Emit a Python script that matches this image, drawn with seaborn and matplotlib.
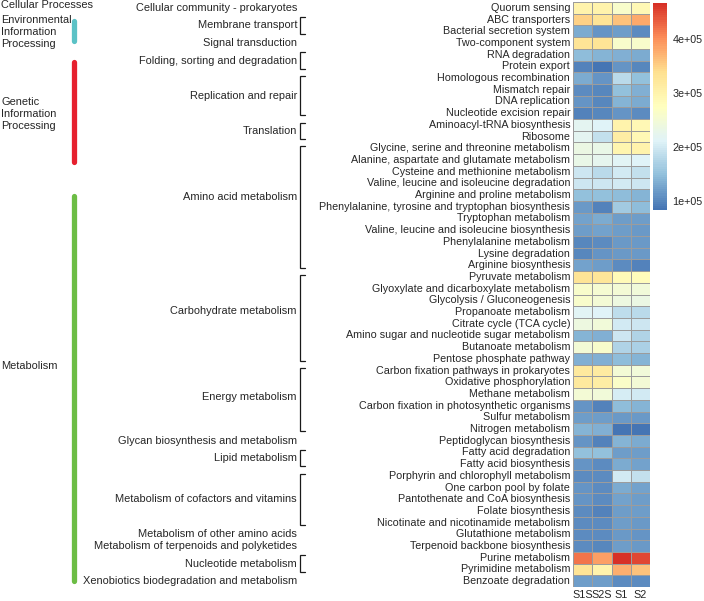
import matplotlib
matplotlib.use("Agg")
import matplotlib.pyplot as plt
import matplotlib.transforms as mtransforms
from matplotlib.colors import LinearSegmentedColormap
import numpy as np
import pandas as pd
import seaborn as sns

# ---------------- data ----------------
samples = ["S1S", "S2S", "S1", "S2"]

pathways = [
    "Quorum sensing", "ABC transporters", "Bacterial secretion system", "Two-component system",
    "RNA degradation", "Protein export", "Homologous recombination", "Mismatch repair",
    "DNA replication", "Nucleotide excision repair", "Aminoacyl-tRNA biosynthesis", "Ribosome",
    "Glycine, serine and threonine metabolism", "Alanine, aspartate and glutamate metabolism",
    "Cysteine and methionine metabolism", "Valine, leucine and isoleucine degradation",
    "Arginine and proline metabolism", "Phenylalanine, tyrosine and tryptophan biosynthesis",
    "Tryptophan metabolism", "Valine, leucine and isoleucine biosynthesis",
    "Phenylalanine metabolism", "Lysine degradation", "Arginine biosynthesis",
    "Pyruvate metabolism", "Glyoxylate and dicarboxylate metabolism", "Glycolysis / Gluconeogenesis",
    "Propanoate metabolism", "Citrate cycle (TCA cycle)", "Amino sugar and nucleotide sugar metabolism",
    "Butanoate metabolism", "Pentose phosphate pathway", "Carbon fixation pathways in prokaryotes",
    "Oxidative phosphorylation", "Methane metabolism", "Carbon fixation in photosynthetic organisms",
    "Sulfur metabolism", "Nitrogen metabolism", "Peptidoglycan biosynthesis", "Fatty acid degradation",
    "Fatty acid biosynthesis", "Porphyrin and chlorophyll metabolism", "One carbon pool by folate",
    "Pantothenate and CoA biosynthesis", "Folate biosynthesis", "Nicotinate and nicotinamide metabolism",
    "Glutathione metabolism", "Terpenoid backbone biosynthesis", "Purine metabolism",
    "Pyrimidine metabolism", "Benzoate degradation",
]

# abundance values (x 1e5), columns S1S, S2S, S1, S2
S1S = [3.00, 3.50, 1.30, 3.30, 1.45, 0.95, 1.30, 1.05, 1.10, 0.95, 2.20, 2.20, 2.35, 2.30, 1.95, 1.95,
       1.50, 1.15, 1.25, 1.20, 1.00, 1.00, 1.25, 3.30, 2.60, 2.60, 2.15, 2.40, 1.40, 2.50, 1.35, 3.20,
       3.20, 2.50, 1.10, 1.20, 1.40, 1.10, 1.50, 1.10, 1.05, 1.10, 1.10, 1.05, 1.05, 1.05, 1.05, 4.20,
       3.30, 1.20]
S2S = [3.00, 3.30, 1.10, 3.30, 1.40, 0.85, 1.10, 1.00, 1.00, 1.00, 2.10, 1.90, 2.30, 2.25, 1.80, 1.95,
       1.50, 0.95, 1.30, 1.25, 1.05, 1.10, 1.20, 3.25, 2.55, 2.50, 2.10, 2.45, 1.35, 2.60, 1.35, 3.15,
       3.10, 2.45, 0.95, 1.20, 1.35, 0.95, 1.50, 1.05, 1.05, 1.05, 1.05, 0.95, 1.05, 1.05, 1.00, 3.90,
       3.00, 1.20]
S1 = [2.60, 3.60, 1.20, 2.60, 1.35, 1.10, 1.80, 1.50, 1.40, 1.10, 3.00, 3.10, 2.95, 2.15, 2.00, 2.00,
      1.45, 1.60, 1.20, 1.20, 1.15, 1.15, 1.05, 2.85, 2.50, 2.40, 1.85, 2.00, 1.95, 1.75, 1.45, 2.50,
      2.65, 2.05, 1.45, 1.15, 0.85, 1.40, 1.20, 1.30, 2.00, 1.30, 1.25, 1.20, 1.20, 1.15, 1.20, 4.65,
      3.75, 1.05]
S2 = [2.90, 3.80, 1.05, 2.60, 1.30, 1.00, 1.50, 1.35, 1.30, 1.05, 2.90, 2.90, 3.00, 2.10, 1.90, 1.95,
      1.40, 1.45, 1.20, 1.15, 1.15, 1.15, 0.95, 2.80, 2.45, 2.35, 1.80, 1.95, 1.75, 1.70, 1.40, 2.45,
      2.50, 2.00, 1.40, 1.15, 0.85, 1.30, 1.20, 1.25, 1.90, 1.25, 1.20, 1.20, 1.15, 1.10, 1.15, 4.50,
      3.60, 1.05]

# level-2 groups: (label, first row, last row)
level2 = [
    ("Cellular community - prokaryotes", 0, 0),
    ("Membrane transport", 1, 2),
    ("Signal transduction", 3, 3),
    ("Folding, sorting and degradation", 4, 5),
    ("Replication and repair", 6, 9),
    ("Translation", 10, 11),
    ("Amino acid metabolism", 12, 22),
    ("Carbohydrate metabolism", 23, 30),
    ("Energy metabolism", 31, 36),
    ("Glycan biosynthesis and metabolism", 37, 37),
    ("Lipid metabolism", 38, 39),
    ("Metabolism of cofactors and vitamins", 40, 44),
    ("Metabolism of other amino acids", 45, 45),
    ("Metabolism of terpenoids and polyketides", 46, 46),
    ("Nucleotide metabolism", 47, 48),
    ("Xenobiotics biodegradation and metabolism", 49, 49),
]

# level-1 groups: (label, first row, last row)
level1 = [
    ("Cellular Processes", 0, 0),
    ("Environmental\nInformation\nProcessing", 1, 3),
    ("Genetic\nInformation\nProcessing", 4, 11),
    ("Metabolism", 12, 49),
]

# ---------------- layout / style ----------------
W, H = 704, 601
level1_text_y = [0.25, 2.56, 9.57, 31.1]          # row units
level1_bar = [None, (1.6, 3.3), (5.1, 13.65), (16.6, 49.45)]
level1_colors = [None, "#5bc2c6", "#e6202e", "#6cbd45"]
level2_dy = {"Amino acid metabolism": -0.8, "Carbohydrate metabolism": -0.55,
             "Energy metabolism": -0.2}

sns.set_style("white")
plt.rcParams["font.family"] = ["Liberation Sans", "DejaVu Sans"]
FS_ROW = 7.75
FS = 7.95

cmap = LinearSegmentedColormap.from_list(
    "pheat", ["#4575B4", "#91BFDB", "#E0F3F8", "#FFFFBF", "#FEE090", "#FC8D59", "#D73027"], N=100)

df = pd.DataFrame({"S1S": S1S, "S2S": S2S, "S1": S1, "S2": S2}, index=pathways)[samples] * 1e5

fig = plt.figure(figsize=(W / 100, H / 100), dpi=100)
ax = fig.add_axes([573 / W, 1 - 587 / H, 77 / W, 585 / H])
cax = fig.add_axes([653 / W, 1 - 210 / H, 14 / W, 207 / H])

sns.heatmap(df, ax=ax, cbar_ax=cax, cmap=cmap, vmin=0.83e5, vmax=4.67e5,
            linewidths=0.6, linecolor="#9c9c9c", xticklabels=True, yticklabels=True)

ax.set_xlabel("")
ax.set_ylabel("")
ax.set_yticklabels(pathways, fontsize=FS_ROW, rotation=0)
ax.set_xticklabels(samples, fontsize=FS_ROW, rotation=0)
ax.tick_params(axis="y", length=0, pad=2)
ax.tick_params(axis="x", length=0, pad=2)

cbar = ax.collections[0].colorbar
cbar.outline.set_visible(False)
cbar.set_ticks([1e5, 2e5, 3e5, 4e5])
cbar.set_ticklabels(["1e+05", "2e+05", "3e+05", "4e+05"])
cax.tick_params(length=0, labelsize=FS_ROW, pad=4)

trans = mtransforms.blended_transform_factory(fig.transFigure, ax.transData)

# level-2 labels and brackets
xl2 = 297 / W
xb0, xb1 = 300 / W, 304.5 / W
inset = 0.3
for name, s, e in level2:
    ax.text(xl2, (s + e + 1) / 2 + level2_dy.get(name, 0), name, transform=trans,
            ha="right", va="center", fontsize=FS, clip_on=False)
    if e > s:
        ax.plot([xb1, xb0, xb0, xb1], [s + inset, s + inset, e + 1 - inset, e + 1 - inset],
                transform=trans, color="#1a1a1a", lw=0.9, clip_on=False,
                solid_joinstyle="miter")

# level-1 labels and colour bars
for (name, s, e), ty, bar, col in zip(level1, level1_text_y, level1_bar, level1_colors):
    ax.text(1 / W, ty, name, transform=trans, ha="left", va="center", fontsize=FS,
            linespacing=1.3, clip_on=False)
    if bar is not None:
        ax.plot([74 / W, 74 / W], [bar[0], bar[1]], transform=trans, color=col, lw=3.8,
                solid_capstyle="round", clip_on=False)

fig.savefig("out.png", dpi=100)
